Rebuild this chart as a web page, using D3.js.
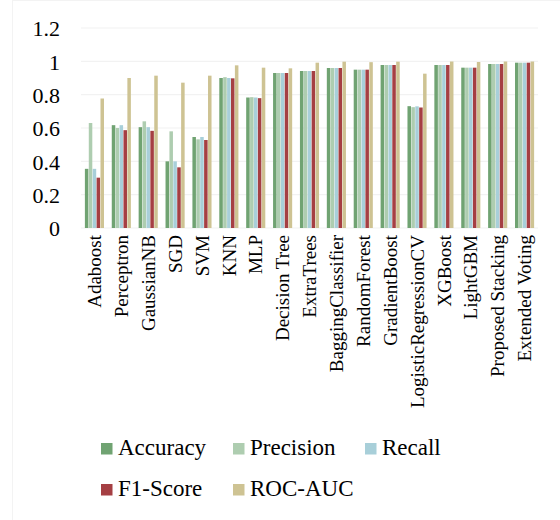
<!DOCTYPE html>
<html><head><meta charset="utf-8">
<script src="https://cdn.jsdelivr.net/npm/d3@7/dist/d3.min.js"></script>
<style>body{margin:0;background:#fff}svg{display:block}svg text{font-family:"Liberation Serif","Times New Roman",Times,serif}</style>
</head><body>
<script>
const categories = ["Adaboost","Perceptron","GaussianNB","SGD","SVM","KNN","MLP","Decision Tree","ExtraTrees","BaggingClassifier","RandomForest","GradientBoost","LogisticRegressionCV","XGBoost","LightGBM","Proposed Stacking","Extended Voting"];
const seriesNames = ["Accuracy","Precision","Recall","F1-Score","ROC-AUC"];
const accuracy  = [0.355,0.617,0.605,0.40,0.546,0.90,0.783,0.930,0.942,0.960,0.950,0.978,0.731,0.978,0.962,0.984,0.992];
const precision = [0.630,0.600,0.640,0.580,0.532,0.905,0.785,0.930,0.942,0.960,0.950,0.978,0.725,0.978,0.962,0.984,0.992];
const recall    = [0.355,0.617,0.605,0.40,0.546,0.900,0.783,0.930,0.942,0.960,0.950,0.978,0.730,0.978,0.962,0.984,0.992];
const f1score   = [0.302,0.587,0.583,0.364,0.528,0.898,0.779,0.930,0.942,0.960,0.950,0.978,0.723,0.978,0.962,0.984,0.992];
const rocauc    = [0.777,0.900,0.914,0.872,0.914,0.976,0.962,0.958,0.992,0.998,0.995,0.998,0.926,0.999,0.996,0.999,0.999];
const yTicks = [0,0.2,0.4,0.6,0.8,1,1.2];
const yTickLabels = ["0","0.2","0.4","0.6","0.8","1","1.2"];
const colors = ["#70a372","#aecdb0","#a8cfd9","#a53f43","#cec393"];
const seriesValues = [accuracy,precision,recall,f1score,rocauc];

(function(){
const W=560,H=520;
const svg=d3.select("body").append("svg").attr("width",W).attr("height",H);
svg.append("rect").attr("x",12.5).attr("y",0.5).attr("width",W).attr("height",H).attr("fill","none").attr("stroke","#f3f3f3");
const font="Liberation Serif";
const mLeft=81,mRight=538,mTop=28,mBottom=228;
const x=d3.scaleBand().domain(categories).range([mLeft,mRight]).paddingInner(0.26).paddingOuter(0.13);
const xs=d3.scaleBand().domain(seriesNames).range([0,x.bandwidth()]).padding(0.1);
const y=d3.scaleLinear().domain([0,1.2]).range([mBottom,mTop]);

const g=svg.append("g");
g.selectAll("line.grid").data(yTicks).join("line").attr("class","grid")
 .attr("x1",mLeft).attr("x2",mRight).attr("y1",d=>y(d)).attr("y2",d=>y(d))
 .attr("stroke","#f2f2f2").attr("stroke-width",1.2);

const yAxis=d3.axisLeft(y).tickValues(yTicks).tickFormat((d,i)=>yTickLabels[i]).tickSize(0).tickPadding(0);
const ya=svg.append("g").attr("transform",`translate(60,0)`).call(yAxis);
ya.attr("font-family",null);
ya.select(".domain").remove();
ya.selectAll("text").style("font-family",font).attr("font-size",22).attr("fill","#000").attr("dy","0.35em");

seriesNames.forEach((s,si)=>{
  g.selectAll("rect.s"+si).data(categories).join("rect").attr("class","s"+si)
   .attr("x",d=>x(d)+xs(s)).attr("width",xs.bandwidth())
   .attr("y",(d,i)=>y(seriesValues[si][i])).attr("height",(d,i)=>y(0)-y(seriesValues[si][i]))
   .attr("fill",colors[si]);
});

const xAxis=d3.axisBottom(x).tickSize(0).tickPadding(0);
const xa=svg.append("g").attr("transform",`translate(0,${mBottom})`).call(xAxis);
xa.attr("font-family",null);
xa.select(".domain").remove();
xa.selectAll("text").style("font-family",font).attr("font-size",19).attr("fill","#000")
 .attr("transform","rotate(-90)").attr("text-anchor","end").attr("x",-7).attr("y",0).attr("dy","0.35em");

const legendPos=[[101,443],[233,443],[365,443],[101,484],[233,484]];
const lg=svg.append("g");
seriesNames.forEach((s,i)=>{
  const [lx,ly]=legendPos[i];
  lg.append("rect").attr("x",lx).attr("y",ly).attr("width",11.5).attr("height",11.5).attr("fill",colors[i]);
  lg.append("text").attr("x",lx+17).attr("y",ly+12).style("font-family",font).attr("font-size",23).attr("fill","#000").text(s);
});
})();
</script>
</body></html>
